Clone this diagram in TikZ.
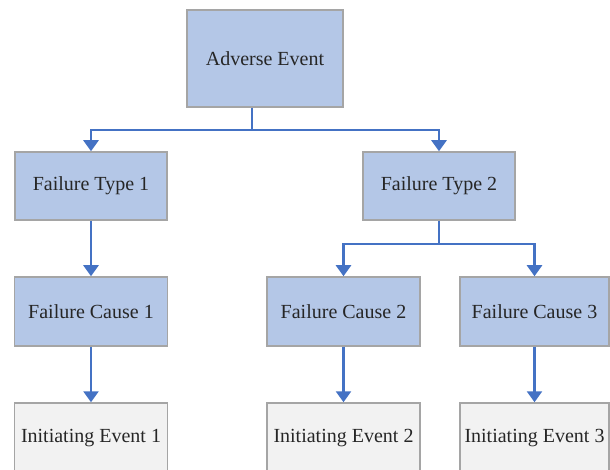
\documentclass[tikz,border=0pt]{standalone}
\usepackage{fontspec}
\setmainfont{Liberation Serif}
\usetikzlibrary{arrows.meta}
\definecolor{boxblue}{HTML}{B4C7E7}
\definecolor{boxgray}{HTML}{F2F2F2}
\definecolor{edgegray}{HTML}{A5A5A5}
\definecolor{arrblue}{HTML}{4472C4}
\definecolor{txt}{HTML}{262626}
\begin{document}
\begin{tikzpicture}[x=1pt,y=-1pt,
  bluebox/.style={draw=edgegray,line width=1.5pt,fill=boxblue,inner sep=0pt,text=txt,font=\fontsize{20}{24}\selectfont},
  graybox/.style={draw=edgegray,line width=1.5pt,fill=boxgray,inner sep=0pt,text=txt,font=\fontsize{20}{24}\selectfont},
  arr/.style={draw=arrblue,line width=2.5pt,-{Triangle[width=15pt,length=11pt]}},
  ln/.style={draw=arrblue,line width=2.5pt}]
\useasboundingbox (0,0) rectangle (610,470);
\clip (0,0) rectangle (610,470);
\fill[white] (0,0) rectangle (610,470);
\node[bluebox,minimum width=156pt,minimum height=97pt] (ae) at (265,58.5) {Adverse Event};
\node[bluebox,minimum width=152pt,minimum height=68pt] (ft1) at (91,186) {Failure Type 1};
\node[bluebox,minimum width=152pt,minimum height=68pt] (ft2) at (439,186) {Failure Type 2};
\node[bluebox,minimum width=153pt,minimum height=69pt] (fc1) at (91,311.5) {Failure Cause 1};
\node[bluebox,minimum width=153pt,minimum height=69pt] (fc2) at (343.5,311.5) {Failure Cause 2};
\node[bluebox,minimum width=149pt,minimum height=69pt] (fc3) at (534.5,311.5) {Failure Cause 3};
\node[graybox,minimum width=153pt,minimum height=84pt] (ie1) at (91,445) {};
\node[graybox,minimum width=153pt,minimum height=84pt] (ie2) at (343.5,445) {};
\node[graybox,minimum width=149pt,minimum height=84pt] (ie3) at (534.5,445) {};
\node[text=txt,font=\fontsize{20}{24}\selectfont] (ie1t) at (91,438) {Initiating Event 1};
\node[text=txt,font=\fontsize{20}{24}\selectfont] (ie2t) at (343.5,438) {Initiating Event 2};
\node[text=txt,font=\fontsize{20}{24}\selectfont] (ie3t) at (534.5,438) {Initiating Event 3};
\coordinate (j1) at (252,130);
\coordinate (j2) at (439,244);
\draw[ln] (ae.south -| j1) -- (j1);
\draw[arr] (j1) -| (ft1.north);
\draw[arr] (j1) -| (ft2.north);
\draw[arr] (ft1) -- (fc1);
\draw[ln] (ft2) -- (j2);
\draw[arr] (j2) -| (fc2.north);
\draw[arr] (j2) -| (fc3.north);
\draw[arr] (fc1) -- (ie1);
\draw[arr] (fc2) -- (ie2);
\draw[arr] (fc3) -- (ie3);
\end{tikzpicture}
\end{document}
